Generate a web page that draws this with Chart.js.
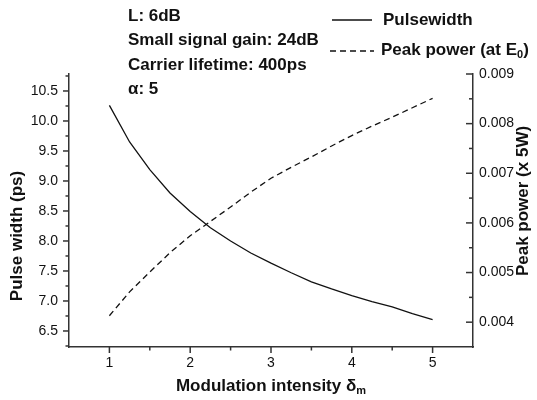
<!DOCTYPE html>
<html>
<head>
<meta charset="utf-8">
<script src="https://cdn.jsdelivr.net/npm/chart.js@4"></script>
<style>
    body { margin: 0; background: #fff; }
    #wrap { width: 537px; height: 400px; position: relative; }
</style>
</head>
<body>
<div id="wrap"><canvas id="pulseChart"></canvas></div>
<script>
// Data

const modulation = [1, 1.25, 1.5, 1.75, 2, 2.25, 2.5, 2.75, 3, 3.25, 3.5, 3.75, 4, 4.25, 4.5, 4.75, 5];
const pulseWidth = [10.26, 9.65, 9.19, 8.80, 8.49, 8.22, 8.00, 7.80, 7.63, 7.47, 7.32, 7.20, 7.09, 6.99, 6.90, 6.79, 6.69];
const peakPower = [0.00413, 0.00461, 0.00501, 0.00540, 0.00574, 0.00603, 0.00632, 0.00662, 0.00690, 0.00712, 0.00733, 0.00755, 0.00776, 0.00795, 0.00813, 0.00832, 0.00851];

const xTicks = [1, 2, 3, 4, 5];
const xMinorTicks = [1.5, 2.5, 3.5, 4.5];
const leftTicks = [6.5, 7.0, 7.5, 8.0, 8.5, 9.0, 9.5, 10.0, 10.5];
const leftMinorTicks = [6.25, 6.75, 7.25, 7.75, 8.25, 8.75, 9.25, 9.75, 10.25, 10.75];
const rightTicks = [0.004, 0.005, 0.006, 0.007, 0.008, 0.009];
const rightMinorTicks = [0.0045, 0.0055, 0.0065, 0.0075, 0.0085];

const infoLines = ['L: 6dB', 'Small signal gain: 24dB', 'Carrier lifetime: 400ps', '\u03b1: 5'];

const FONT = '"Liberation Sans", Arial, Helvetica, sans-serif';
const INK = '#111';
const BOLD = 17;

// text with an optional subscript part: [[text, isSub], ...]
function drawParts(ctx, parts, x, y, size) {
    let cx = x;
    parts.forEach(([txt, sub]) => {
        ctx.font = 'bold ' + (sub ? Math.round(size * 0.62) : size) + 'px ' + FONT;
        ctx.fillText(txt, cx, sub ? y + size * 0.3 : y);
        cx += ctx.measureText(txt).width;
    });
    return cx - x;
}

function partsWidth(ctx, parts, size) {
    let w = 0;
    parts.forEach(([txt, sub]) => {
        ctx.font = 'bold ' + (sub ? Math.round(size * 0.62) : size) + 'px ' + FONT;
        w += ctx.measureText(txt).width;
    });
    return w;
}

const decorations = {
    id: 'decorations',
    afterDraw(chart) {
        const ctx = chart.ctx;
        const area = chart.chartArea;
        const sx = chart.scales.x, sl = chart.scales.y, sr = chart.scales.y2;
        ctx.save();
        ctx.strokeStyle = '#333';
        ctx.lineWidth = 1.5;

        // tick marks: left and bottom outward, right inward
        const tick = (x1, y1, x2, y2) => {
            ctx.beginPath(); ctx.moveTo(x1, y1); ctx.lineTo(x2, y2); ctx.stroke();
        };
        leftTicks.forEach(v => { const y = sl.getPixelForValue(v); tick(area.left - 6, y, area.left, y); });
        leftMinorTicks.forEach(v => { const y = sl.getPixelForValue(v); tick(area.left - 3.5, y, area.left, y); });
        xTicks.forEach(v => { const x = sx.getPixelForValue(v); tick(x, area.bottom, x, area.bottom + 6); });
        xMinorTicks.forEach(v => { const x = sx.getPixelForValue(v); tick(x, area.bottom, x, area.bottom + 3.5); });
        rightTicks.forEach(v => { const y = sr.getPixelForValue(v); tick(area.right - 7, y, area.right, y); });
        rightMinorTicks.forEach(v => { const y = sr.getPixelForValue(v); tick(area.right - 4, y, area.right, y); });

        // parameter block
        ctx.fillStyle = INK;
        ctx.textBaseline = 'middle';
        ctx.textAlign = 'left';
        ctx.font = 'bold ' + BOLD + 'px ' + FONT;
        infoLines.forEach((t, i) => ctx.fillText(t, 128, 16 + i * 24.5));

        // legend
        ctx.strokeStyle = INK;
        ctx.lineWidth = 1.3;
        ctx.beginPath(); ctx.moveTo(332, 20); ctx.lineTo(372, 20); ctx.stroke();
        ctx.setLineDash([6, 4]);
        ctx.beginPath(); ctx.moveTo(330, 51); ctx.lineTo(374, 51); ctx.stroke();
        ctx.setLineDash([]);
        drawParts(ctx, [['Pulsewidth', false]], 383, 20, BOLD);
        drawParts(ctx, [['Peak power (at E', false], ['0', true], [')', false]], 381, 50, BOLD);

        // axis titles
        const xTitle = [['Modulation intensity \u03b4', false], ['m', true]];
        const xw = partsWidth(ctx, xTitle, BOLD);
        drawParts(ctx, xTitle, (area.left + area.right) / 2 - xw / 2, 386, BOLD);

        const yTitle = [['Pulse width (ps)', false]];
        ctx.save();
        ctx.translate(17, 236);
        ctx.rotate(-Math.PI / 2);
        drawParts(ctx, yTitle, -partsWidth(ctx, yTitle, BOLD) / 2, 0, BOLD);
        ctx.restore();

        const y2Title = [['Peak power (x 5W)', false]];
        ctx.save();
        ctx.translate(523, 201);
        ctx.rotate(-Math.PI / 2);
        drawParts(ctx, y2Title, -partsWidth(ctx, y2Title, BOLD) / 2, 0, BOLD);
        ctx.restore();

        ctx.restore();
    }
};

const ctxPulse = document.getElementById('pulseChart').getContext('2d');
const pulseChart = new Chart(ctxPulse, {
    type: 'line',
    data: {
        datasets: [{
            label: 'Pulsewidth',
            data: modulation.map((m, i) => ({ x: m, y: pulseWidth[i] })),
            borderColor: INK,
            borderWidth: 1.3,
            pointRadius: 0,
            tension: 0,
            yAxisID: 'y'
        }, {
            label: 'Peak power (at E0)',
            data: modulation.map((m, i) => ({ x: m, y: peakPower[i] })),
            borderColor: INK,
            borderWidth: 1.3,
            borderDash: [6, 4],
            pointRadius: 0,
            tension: 0,
            yAxisID: 'y2'
        }]
    },
    options: {
        responsive: true,
        maintainAspectRatio: false,
        animation: false,
        events: [],
        layout: {
            padding: { top: 74, left: 0, right: 0, bottom: 0 }
        },
        plugins: {
            legend: { display: false },
            tooltip: { enabled: false }
        },
        scales: {
            x: {
                type: 'linear',
                min: 0.5,
                max: 5.5,
                afterBuildTicks: s => { s.ticks = xTicks.map(v => ({ value: v })); },
                afterFit: s => { s.height = 53; },
                grid: { display: false, drawTicks: false },
                border: { display: true, color: '#333', width: 1.5 },
                ticks: {
                    padding: 8,
                    color: INK,
                    font: { family: FONT, size: 14 },
                    callback: v => String(v)
                }
            },
            y: {
                position: 'left',
                min: 6.233,
                max: 10.783,
                afterBuildTicks: s => { s.ticks = leftTicks.map(v => ({ value: v })); },
                afterFit: s => { s.width = 69; },
                grid: { display: false, drawTicks: false },
                border: { display: true, color: '#333', width: 1.5 },
                ticks: {
                    padding: 11,
                    color: INK,
                    font: { family: FONT, size: 14 },
                    callback: v => v.toFixed(1)
                }
            },
            y2: {
                position: 'right',
                min: 0.0035,
                max: 0.009,
                afterBuildTicks: s => { s.ticks = rightTicks.map(v => ({ value: v })); },
                afterFit: s => { s.width = 64; },
                grid: { display: false, drawTicks: false },
                border: { display: true, color: '#333', width: 1.5 },
                ticks: {
                    padding: 6,
                    color: INK,
                    font: { family: FONT, size: 14 },
                    callback: v => v.toFixed(3)
                }
            }
        }
    },
    plugins: [decorations]
});
</script>
</body>
</html>
